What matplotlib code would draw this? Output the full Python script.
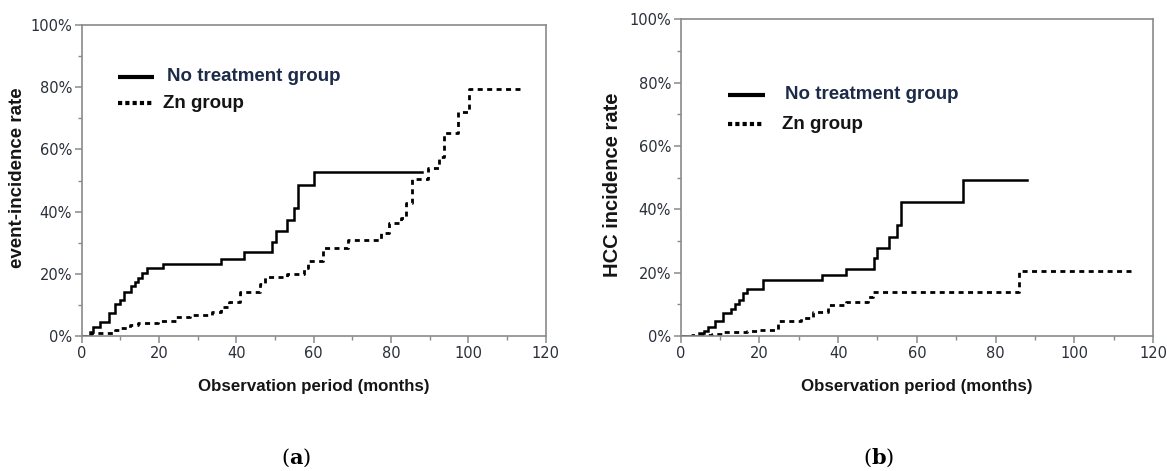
import matplotlib
matplotlib.use("Agg")
import matplotlib.pyplot as plt
from matplotlib.ticker import MultipleLocator, FuncFormatter

# ---------------- data ----------------
# Panel (a): event incidence
a_nt_t = [0, 2.2, 2.8, 4.8, 7.0, 8.7, 9.8, 10.9, 12.8, 13.7, 14.5, 15.7, 16.8,
          20.9, 36.1, 42.0, 49.3, 50.2, 53.1, 55.0, 55.9, 60.1, 88.0]
a_nt_v = [0, 1.4, 2.8, 4.4, 7.3, 10.3, 11.6, 14.3, 16.0, 17.3, 18.8, 20.4, 21.8,
          23.1, 24.8, 26.9, 30.1, 33.8, 37.3, 41.0, 48.5, 52.7, 52.7]

a_zn_t = [0, 2.5, 8.5, 9.5, 12.5, 14.5, 19.7, 24.5, 28.0, 33.8, 36.0, 38.0, 41.0,
          46.0, 47.5, 53.0, 57.5, 58.5, 62.5, 68.8, 77.5, 79.5, 82.6, 84.0, 85.5,
          89.5, 92.5, 93.8, 97.3, 100.3, 114.0]
a_zn_v = [0, 0.9, 1.9, 2.5, 3.5, 4.3, 4.9, 6.0, 6.75, 7.6, 9.2, 11.0, 14.3,
          16.6, 19.0, 20.0, 21.8, 24.0, 28.2, 31.0, 33.0, 36.2, 37.8, 42.7, 50.4,
          53.9, 57.7, 65.4, 72.0, 79.3, 79.3]

# Panel (b): HCC incidence
b_nt_t = [0, 4.7, 6.0, 6.9, 8.6, 10.7, 12.9, 13.7, 14.9, 15.9, 16.9, 21.0, 36.0,
          42.0, 49.0, 50.0, 53.0, 55.0, 56.0, 71.8, 88.0]
b_nt_v = [0, 0.85, 1.6, 2.7, 4.6, 7.4, 8.5, 10.1, 11.5, 13.6, 14.9, 17.6, 19.4,
          21.3, 24.5, 27.7, 31.4, 35.0, 42.2, 49.3, 49.3]

b_zn_t = [0, 2.8, 8.0, 10.4, 16.8, 20.0, 24.8, 30.5, 33.5, 37.5, 42.0, 47.5, 48.8,
          86.0, 114.5]
b_zn_v = [0, 0.3, 0.6, 1.2, 1.6, 1.9, 4.7, 5.6, 7.7, 9.8, 10.8, 12.4, 13.8,
          20.4, 20.4]

series_labels = ["No treatment group", "Zn group"]
x_label = "Observation period (months)"
y_labels = ["event-incidence rate", "HCC incidence rate"]
panel_tags = ["a", "b"]

# ---------------- styling ----------------
W, H = 1167, 471
plt.rcParams["mathtext.fontset"] = "dejavuserif"
fig = plt.figure(figsize=(W / 100, H / 100), dpi=100)

SPINE = "#8a8a8a"
TICKC = "#2a2f3a"
LABEL_FONT = ["Liberation Sans", "DejaVu Sans"]
TICK_FONT = ["DejaVu Sans"]

axes_px = [  # left, right, top, bottom in pixels
    (81.8, 545.6, 25.0, 336.0),
    (680.7, 1153.0, 19.3, 336.0),
]
data = [
    ((a_nt_t, a_nt_v), (a_zn_t, a_zn_v)),
    ((b_nt_t, b_nt_v), (b_zn_t, b_zn_v)),
]
legend_pos = [  # (line x0, x1, y_nt, y_zn, text x_nt, text x_zn) in axes fraction
    (0.078, 0.156, 0.833, 0.749, 0.184, 0.175),
    (0.100, 0.178, 0.761, 0.669, 0.221, 0.214),
]
ylabel_pos = [(17.5, 177.5, 13.5), (612.0, 185.0, 14.5)]
tag_x = [296, 879]

DASH = (0, (1.8, 1.6))

for i in range(2):
    l, r, t, b = axes_px[i]
    ax = fig.add_axes([l / W, 1 - b / H, (r - l) / W, (b - t) / H])
    (nt_t, nt_v), (zn_t, zn_v) = data[i]
    ax.plot(nt_t, nt_v, drawstyle="steps-post", color="black", lw=1.8,
            solid_joinstyle="miter")
    ax.plot(zn_t, zn_v, drawstyle="steps-post", color="black", lw=2.0,
            linestyle=DASH)

    ax.set_xlim(0, 120)
    ax.set_ylim(0, 100)
    ax.xaxis.set_major_locator(MultipleLocator(20))
    ax.xaxis.set_minor_locator(MultipleLocator(10))
    ax.yaxis.set_major_locator(MultipleLocator(20))
    ax.yaxis.set_minor_locator(MultipleLocator(10))
    ax.yaxis.set_major_formatter(FuncFormatter(lambda v, p: f"{int(v)}%"))
    for s in ax.spines.values():
        s.set_color(SPINE)
        s.set_linewidth(1.2)
    ax.tick_params(which="major", direction="out", length=5, width=1.1,
                   color=SPINE, labelsize=10.5, labelcolor=TICKC, pad=2)
    ax.tick_params(which="minor", direction="out", length=3, width=1.0,
                   color=SPINE)
    for lab in ax.get_xticklabels() + ax.get_yticklabels():
        lab.set_fontfamily(TICK_FONT)

    # legend (drawn manually to match the reference)
    x0, x1, y_nt, y_zn, tx_nt, tx_zn = legend_pos[i]
    ax.plot([x0, x1], [y_nt, y_nt], transform=ax.transAxes, color="black",
            lw=3.0, solid_capstyle="butt")
    ax.plot([x0, x1 - 0.004], [y_zn, y_zn], transform=ax.transAxes, color="black",
            lw=3.0, linestyle=(0, (1.0, 0.75)))
    ax.text(tx_nt, y_nt, series_labels[0], transform=ax.transAxes,
            fontsize=13.5, fontweight="bold", color="#1d2b48",
            family=LABEL_FONT, ha="left", va="center")
    ax.text(tx_zn, y_zn, series_labels[1], transform=ax.transAxes,
            fontsize=13.5, fontweight="bold", color="#141414",
            family=LABEL_FONT, ha="left", va="center")

    # axis labels
    fig.text(((l + r) / 2) / W, 1 - 387 / H, x_label, fontsize=12.2,
             fontweight="bold", color="#151515", family=LABEL_FONT,
             ha="center", va="center")
    yx, yy, ys = ylabel_pos[i]
    fig.text(yx / W, 1 - yy / H, y_labels[i], fontsize=ys, fontweight="bold",
             color="#151515", family=LABEL_FONT, rotation=90,
             ha="center", va="center")

    # panel tag
    fig.text(tag_x[i] / W, 1 - 458 / H, r"($\mathbf{" + panel_tags[i] + r"}$)",
             fontsize=15, family="DejaVu Serif", color="black",
             ha="center", va="center")

fig.savefig("out.png", dpi=100)
